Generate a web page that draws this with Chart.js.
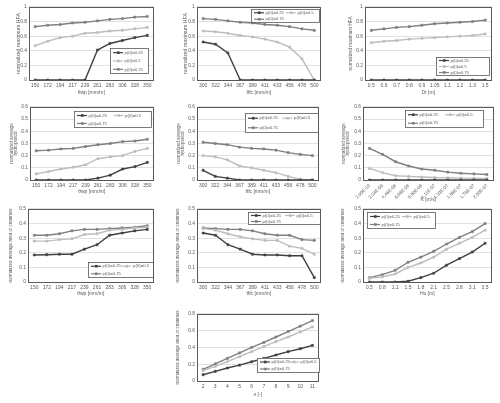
<!DOCTYPE html>
<html><head><meta charset="utf-8">
<script src="https://cdn.jsdelivr.net/npm/chart.js@4.4.0/dist/chart.umd.min.js"></script>
<style>
body{margin:0;background:#fff;width:500px;height:403px;position:relative;overflow:hidden}
canvas{position:absolute}
</style>
</head><body>
<script>
// ---- data ----
const seriesNames = ['p(0)=0.25', 'p(0)=0.5', 'p(0)=0.75'];

const wpLabels = ['150','172','194','217','239','261','283','306','328','350'];
const fcLabels = ['300','322','344','367','389','411','433','456','478','500'];
const drLabels = ['0.5','0.6','0.7','0.8','0.9','1.05','1.1','1.2','1.3','1.5'];
const kLabels  = ['2.00E-10','2.24E-08','4.46E-08','6.68E-08','8.90E-08','1.11E-07','1.33E-07','1.56E-07','1.78E-07','2.00E-07'];
const huLabels = ['0.5','0.8','1.1','1.5','1.8','2.1','2.5','2.8','3.1','3.5'];
const nLabels  = ['2','3','4','5','6','7','8','9','10','11'];

// normalized maximum HFA
const hfaWp025 = [0,0,0,0,0,0.41,0.50,0.54,0.58,0.61];
const hfaWp05  = [0.47,0.53,0.58,0.60,0.64,0.65,0.67,0.68,0.70,0.72];
const hfaWp075 = [0.73,0.75,0.76,0.78,0.79,0.81,0.83,0.84,0.86,0.87];

const hfaFc025 = [0.52,0.49,0.37,0,0,0,0,0,0,0];
const hfaFc05  = [0.67,0.66,0.64,0.61,0.59,0.56,0.52,0.45,0.29,0];
const hfaFc075 = [0.84,0.83,0.81,0.79,0.78,0.76,0.75,0.73,0.70,0.68];

const hfaDr025 = [0,0,0,0,0,0,0,0,0,0];
const hfaDr05  = [0.51,0.53,0.54,0.56,0.57,0.58,0.59,0.60,0.61,0.63];
const hfaDr075 = [0.68,0.70,0.72,0.73,0.75,0.77,0.78,0.79,0.80,0.82];

// normalized average hydroperiod
const hydWp025 = [0,0,0,0,0,0.015,0.04,0.09,0.11,0.145];
const hydWp05  = [0.05,0.07,0.09,0.105,0.125,0.175,0.19,0.20,0.235,0.26];
const hydWp075 = [0.24,0.245,0.255,0.26,0.275,0.29,0.30,0.315,0.32,0.335];

const hydFc025 = [0.08,0.03,0.015,0,0,0,0,0,0,0];
const hydFc05  = [0.20,0.19,0.165,0.115,0.10,0.08,0.06,0.03,0.005,0];
const hydFc075 = [0.31,0.30,0.29,0.27,0.26,0.255,0.245,0.225,0.21,0.20];

const hydK025 = [0,0,0,0,0,0,0,0,0,0];
const hydK05  = [0.095,0.06,0.035,0.03,0.025,0.02,0.018,0.015,0.013,0.012];
const hydK075 = [0.26,0.21,0.15,0.115,0.09,0.08,0.065,0.055,0.05,0.045];

// normalized average area of channels
const chWp025 = [0.185,0.187,0.19,0.19,0.225,0.255,0.32,0.335,0.35,0.36];
const chWp05  = [0.28,0.28,0.29,0.295,0.325,0.33,0.355,0.36,0.37,0.375];
const chWp075 = [0.32,0.32,0.33,0.35,0.36,0.36,0.365,0.37,0.375,0.385];

const chFc025 = [0.335,0.32,0.255,0.225,0.19,0.185,0.185,0.18,0.18,0.03];
const chFc05  = [0.365,0.355,0.33,0.31,0.295,0.285,0.285,0.245,0.23,0.19];
const chFc075 = [0.37,0.365,0.36,0.36,0.35,0.33,0.32,0.32,0.29,0.285];

const chHu025 = [0,0,0,0.005,0.03,0.06,0.115,0.16,0.205,0.265];
const chHu05  = [0.025,0.035,0.055,0.10,0.13,0.17,0.225,0.265,0.305,0.355];
const chHu075 = [0.03,0.05,0.08,0.135,0.17,0.21,0.26,0.305,0.345,0.40];

const chN025 = [0.075,0.115,0.155,0.19,0.23,0.27,0.31,0.35,0.385,0.425];
const chN05  = [0.125,0.175,0.23,0.29,0.35,0.41,0.47,0.525,0.585,0.645];
const chN075 = [0.14,0.205,0.27,0.335,0.40,0.46,0.525,0.59,0.655,0.72];

// ---- style ----
const colors = ['#404040', '#bdbdbd', '#7f7f7f'];
const FONT = '"Liberation Sans", Arial, sans-serif';
const TXT = '#595959';

const titleHFA = 'normalized maximum HFA';
const titleHyd = ['normalized average', 'hydroperiod'];
const titleCh = 'normalized average area of channels';

const panels = [
  {labels: wpLabels, data:[hfaWp025,hfaWp05,hfaWp075], max:1, step:0.1, xt:'θwp [mm/m]', yt:titleHFA, yf:5.2,
   plot:[29,6,155,80], yW:13, xH:16, leg:{x:110,y:48,w:38,h:25,cols:1}},
  {labels: fcLabels, data:[hfaFc025,hfaFc05,hfaFc075], max:1, step:0.1, xt:'θfc [mm/m]', yt:titleHFA, yf:5.2,
   plot:[197,6,322,80], yW:14, xH:16, leg:{x:251,y:9,w:68,h:13,cols:2}},
  {labels: drLabels, data:[hfaDr025,hfaDr05,hfaDr075], max:1, step:0.1, xt:'Dr [m]', yt:titleHFA, yf:4.6,
   plot:[365,6,493,80], yW:17, xH:16, leg:{x:436,y:57,w:53,h:18,cols:1}},
  {labels: wpLabels, data:[hydWp025,hydWp05,hydWp075], max:0.6, step:0.1, xt:'θwp [mm/m]', yt:titleHyd, yf:4.6,
   plot:[30,106,155,180], yW:21, xH:15, leg:{x:74,y:111,w:77,h:16,cols:2}},
  {labels: fcLabels, data:[hydFc025,hydFc05,hydFc075], max:0.6, step:0.1, xt:'θfc [mm/m]', yt:titleHyd, yf:4.6,
   plot:[197,106,320,180], yW:21, xH:15, leg:{x:245,y:113,w:73,h:19,cols:2}},
  {labels: kLabels, data:[hydK025,hydK05,hydK075], max:0.6, step:0.1, xt:'K [m/s]', yt:titleHyd, yf:4.6,
   plot:[363,106,495,180], yW:22, xH:23, rot:45, leg:{x:405,y:110,w:78,h:17,cols:2}},
  {labels: wpLabels, data:[chWp025,chWp05,chWp075], max:0.5, step:0.05, xt:'θwp [mm/m]', yt:titleCh, yf:4.5,
   plot:[28,208,155,282], yW:19, xH:15, leg:{x:88,y:262,w:65,h:15,cols:2}},
  {labels: fcLabels, data:[chFc025,chFc05,chFc075], max:0.5, step:0.05, xt:'θfc [mm/m]', yt:titleCh, yf:4.5,
   plot:[197,208,322,282], yW:21, xH:15, leg:{x:248,y:212,w:72,h:12,cols:2}},
  {labels: huLabels, data:[chHu025,chHu05,chHu075], max:0.5, step:0.05, xt:'Hu [m]', yt:titleCh, yf:4.5,
   plot:[363,208,493,282], yW:22, xH:15, leg:{x:367,y:212,w:68,h:16,cols:2}},
  {labels: nLabels, data:[chN025,chN05,chN075], max:0.8, step:0.1, xt:'n [-]', yt:titleCh, yf:4.5,
   plot:[197,313,320,381], yW:21, xH:17, leg:{x:257,y:358,w:62,h:14,cols:2}},
];

const frame = {
  id:'frame',
  afterDraw(chart){
    const a = chart.chartArea, ctx = chart.ctx;
    ctx.save(); ctx.strokeStyle = '#595959'; ctx.lineWidth = 1;
    ctx.strokeRect(Math.round(a.left)+0.5, Math.round(a.top)+0.5, Math.round(a.right-a.left)-1, Math.round(a.bottom-a.top));
    ctx.restore();
  }
};

const boxLegend = {
  id:'boxLegend',
  afterDraw(chart, args, o){
    if (!o || !o.w) return;
    const ctx = chart.ctx;
    const x = o.x - o.ox, y = o.y - o.oy;
    ctx.save();
    ctx.fillStyle = '#fff'; ctx.fillRect(x, y, o.w, o.h);
    ctx.strokeStyle = '#595959'; ctx.lineWidth = 0.8; ctx.strokeRect(x+0.5, y+0.5, o.w, o.h);
    const ds = chart.data.datasets;
    const rows = Math.ceil(ds.length / o.cols);
    const colW = (o.w - 4) / o.cols, rowH = o.h / rows;
    ctx.font = '4.3px ' + FONT; ctx.textBaseline = 'middle'; ctx.textAlign = 'left';
    ds.forEach((d, i) => {
      const c = i % o.cols, r = Math.floor(i / o.cols);
      const cx = x + 3 + c * colW, cy = y + rowH * (r + 0.5) + 0.5;
      ctx.strokeStyle = d.borderColor; ctx.lineWidth = 1.2;
      ctx.beginPath(); ctx.moveTo(cx, cy); ctx.lineTo(cx + 10, cy); ctx.stroke();
      ctx.fillStyle = d.borderColor; ctx.fillRect(cx + 4, cy - 1.3, 2.6, 2.6);
      ctx.fillStyle = TXT; ctx.fillText(d.label, cx + 11.5, cy);
    });
    ctx.restore();
  }
};

const fmt = v => String(Math.round(v * 1000) / 1000);

panels.forEach(p => {
  const [l, t, r, b] = p.plot;
  const left = l - p.yW, top = t - 4;
  const w = p.yW + (r - l) + 3, h = 4 + (b - t) + p.xH;
  const cv = document.createElement('canvas');
  cv.width = w; cv.height = h;
  cv.style.left = left + 'px'; cv.style.top = top + 'px';
  cv.style.width = w + 'px'; cv.style.height = h + 'px';
  document.body.appendChild(cv);
  const rot = p.rot || 0;
  new Chart(cv, {
    type:'line',
    data:{
      labels: p.labels,
      datasets: p.data.map((d, i) => ({
        label: seriesNames[i], data: d,
        borderColor: colors[i], backgroundColor: colors[i],
        borderWidth: 1.4, pointStyle:'rect', pointRadius: 1.5, pointBorderWidth: 0.5,
        tension: 0, fill: false
      }))
    },
    options:{
      responsive:false, animation:false, devicePixelRatio:1,
      layout:{padding:{top:4, right:3, left:0, bottom:0}},
      plugins:{
        legend:{display:false}, tooltip:{enabled:false},
        boxLegend: Object.assign({ox:left, oy:top}, p.leg)
      },
      scales:{
        x:{
          type:'category', offset:true,
          grid:{display:false, drawTicks:false}, border:{display:false},
          ticks:{font:{size:rot ? 4.6 : 5, family:FONT}, color:TXT, padding:3, autoSkip:false, maxRotation:rot, minRotation:rot},
          title:{display:true, text:p.xt, font:{size:5, family:FONT}, color:TXT, padding:0},
          afterFit(s){ s.height = p.xH; }
        },
        y:{
          min:0, max:p.max,
          ticks:{stepSize:p.step, font:{size:4.9, family:FONT}, color:TXT, padding:2, callback: v => fmt(v)},
          grid:{color:'#d9d9d9', drawTicks:false, lineWidth:0.8},
          border:{display:false},
          title:{display:true, text:p.yt, font:{size:p.yf, family:FONT, lineHeight:1.0}, color:TXT, padding:0},
          afterFit(s){ s.width = p.yW; }
        }
      }
    },
    plugins:[frame, boxLegend]
  });
});
</script>
</body></html>
